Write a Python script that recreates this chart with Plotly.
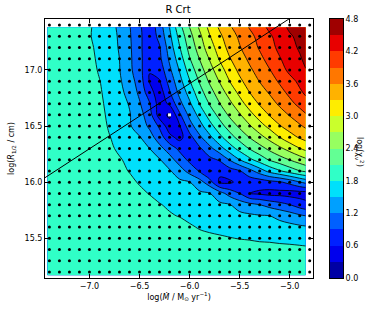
import plotly.graph_objects as go

# ---------------- data ----------------
title_text = "R Crt"

mdot_grid = [-7.42, -7.3, -7.2, -7.1, -7.0, -6.9, -6.8, -6.7, -6.6, -6.5, -6.4, -6.3, -6.2, -6.1,
             -6.0, -5.9, -5.8, -5.7, -5.6, -5.5, -5.4, -5.3, -5.2, -5.1, -5.0, -4.9, -4.84]
rad_grid = [15.17, 15.3, 15.4, 15.5, 15.6, 15.7, 15.8, 15.9, 16.0, 16.1, 16.2, 16.3, 16.4, 16.5,
            16.6, 16.7, 16.8, 16.9, 17.0, 17.1, 17.2, 17.3, 17.38]

# log(chi^2_nu), one row per rad_grid value (bottom -> top), columns follow mdot_grid
chi_r1517 = [1.95]*27
chi_r1530 = [1.95]*27
chi_r1540 = [1.95]*19 + [1.93, 1.90, 1.89, 1.89, 1.88, 1.87, 1.86, 1.85]
chi_r1550 = [1.95]*13 + [1.93, 1.90, 1.87, 1.84, 1.83, 1.81, 1.79, 1.78, 1.76, 1.75, 1.73, 1.72, 1.70, 1.69]
chi_r1560 = [1.95]*13 + [1.88, 1.83, 1.78, 1.76, 1.73, 1.71, 1.68, 1.66, 1.64, 1.63, 1.60, 1.58, 1.55, 1.53]
chi_r1570 = [1.95]*10 + [1.92, 1.88, 1.82, 1.79, 1.74, 1.71, 1.68, 1.64, 1.61, 1.58, 1.55, 1.52, 1.50, 1.43, 1.35, 1.25, 1.20]
chi_r1580 = [1.95]*10 + [1.87, 1.81, 1.77, 1.71, 1.68, 1.63, 1.59, 1.55, 1.51, 1.37, 1.28, 1.20, 1.09, 1.00, 0.90, 0.75, 0.68]
chi_r1590 = [1.95]*9 + [1.85, 1.79, 1.74, 1.70, 1.64, 1.60, 1.55, 1.51, 1.33, 1.08, 0.90, 0.60, 0.55, 0.50, 0.50, 0.47, 0.47, 0.47]
chi_r1600 = [1.95]*8 + [1.85, 1.78, 1.72, 1.67, 1.62, 1.56, 1.51, 1.32, 1.03, 0.55, 0.55, 0.68, 0.72, 0.73, 0.80, 0.86, 0.99, 1.18, 1.28]
chi_r1610 = [1.95]*7 + [1.85, 1.79, 1.73, 1.66, 1.59, 1.53, 1.34, 1.09, 0.87, 0.58, 0.66, 0.77, 0.88, 1.10, 1.35, 1.60, 1.77, 1.94, 2.09, 2.16]
chi_r1620 = [1.95]*7 + [1.82, 1.75, 1.67, 1.59, 1.52, 1.32, 1.06, 0.83, 0.72, 0.82, 0.93, 1.22, 1.50, 1.73, 1.94, 2.13, 2.27, 2.41, 2.55, 2.64]
chi_r1630 = [1.95]*6 + [1.84, 1.76, 1.67, 1.59, 1.50, 1.29, 1.06, 0.83, 0.66, 0.85, 1.11, 1.38, 1.66, 1.90, 2.12, 2.29, 2.47, 2.64, 2.81, 2.99, 3.08]
chi_r1640 = [1.95]*5 + [1.92, 1.81, 1.72, 1.62, 1.52, 1.32, 1.05, 0.69, 0.50, 0.79, 1.14, 1.43, 1.72, 1.98, 2.21, 2.41, 2.60, 2.80, 3.00, 3.19, 3.33, 3.40]
chi_r1650 = [1.95]*5 + [1.90, 1.77, 1.65, 1.53, 1.36, 1.15, 0.85, 0.42, 0.57, 1.07, 1.39, 1.69, 1.98, 2.23, 2.45, 2.67, 2.89, 3.08, 3.28, 3.42, 3.56, 3.65]
chi_r1660 = [1.95]*5 + [1.87, 1.75, 1.64, 1.52, 1.32, 1.03, 0.45, 0.24, 0.84, 1.28, 1.59, 1.92, 2.19, 2.45, 2.67, 2.91, 3.12, 3.32, 3.47, 3.62, 3.78, 3.87]
chi_r1670 = [1.95]*5 + [1.85, 1.73, 1.61, 1.48, 1.23, 0.93, 0.45, 0.65, 1.11, 1.45, 1.81, 2.12, 2.39, 2.63, 2.89, 3.12, 3.33, 3.48, 3.65, 3.82, 3.98, 4.09]
chi_r1680 = [1.95]*5 + [1.83, 1.71, 1.58, 1.40, 1.14, 0.72, 0.43, 0.87, 1.28, 1.61, 1.98, 2.28, 2.55, 2.82, 3.07, 3.30, 3.47, 3.63, 3.80, 3.97, 4.15, 4.25]
chi_r1690 = [1.95]*4 + [1.92, 1.81, 1.67, 1.54, 1.34, 1.07, 0.58, 0.58, 1.01, 1.40, 1.78, 2.13, 2.44, 2.72, 3.00, 3.24, 3.43, 3.61, 3.77, 3.94, 4.09, 4.27, 4.37]
chi_r1700 = [1.95]*4 + [1.90, 1.77, 1.64, 1.51, 1.27, 1.01, 0.61, 0.72, 1.14, 1.52, 1.93, 2.27, 2.58, 2.87, 3.14, 3.37, 3.55, 3.72, 3.89, 4.06, 4.28, 4.40, 4.49]
chi_r1710 = [1.95]*4 + [1.87, 1.75, 1.625, 1.50, 1.26, 1.00, 0.64, 0.83, 1.25, 1.65, 2.08, 2.41, 2.72, 3.03, 3.28, 3.47, 3.66, 3.83, 4.00, 4.18, 4.33, 4.47, 4.56]
chi_r1720 = [1.95]*4 + [1.85, 1.73, 1.61, 1.48, 1.25, 0.98, 0.66, 0.87, 1.34, 1.78, 2.20, 2.54, 2.86, 3.14, 3.39, 3.58, 3.76, 3.93, 4.10, 4.27, 4.42, 4.53, 4.62]
chi_r1730 = [1.95]*4 + [1.82, 1.71, 1.60, 1.47, 1.235, 0.97, 0.69, 0.99, 1.43, 1.89, 2.30, 2.63, 2.98, 3.24, 3.46, 3.65, 3.82, 3.99, 4.16, 4.31, 4.47, 4.56, 4.66]
chi_r1738 = [1.95]*4 + [1.83, 1.70, 1.59, 1.45, 1.22, 0.95, 0.70, 1.05, 1.50, 2.00, 2.40, 2.74, 3.08, 3.34, 3.56, 3.74, 3.92, 4.09, 4.26, 4.41, 4.54, 4.64, 4.72]

chi_rows = [chi_r1517, chi_r1530, chi_r1540, chi_r1550, chi_r1560, chi_r1570, chi_r1580, chi_r1590,
            chi_r1600, chi_r1610, chi_r1620, chi_r1630, chi_r1640, chi_r1650, chi_r1660, chi_r1670,
            chi_r1680, chi_r1690, chi_r1700, chi_r1710, chi_r1720, chi_r1730, chi_r1738]

level_start, level_end, level_step = 0.0, 4.8, 0.3
cbar_ticks = [0.0, 0.6, 1.2, 1.8, 2.4, 3.0, 3.6, 4.2, 4.8]
cbar_labels = ["0.0", "0.6", "1.2", "1.8", "2.4", "3.0", "3.6", "4.2", "4.8"]
x_ticks = [-7.0, -6.5, -6.0, -5.5, -5.0]
x_labels = ["\u22127.0", "\u22126.5", "\u22126.0", "\u22125.5", "\u22125.0"]
y_ticks = [15.5, 16.0, 16.5, 17.0]
y_labels = ["15.5", "16.0", "16.5", "17.0"]

# sampled model positions (black dots)
dot_x = [-7.4, -7.3, -7.2, -7.1, -7.0, -6.9, -6.8, -6.7, -6.6, -6.5, -6.4, -6.3, -6.2, -6.1,
         -6.0, -5.9, -5.8, -5.7, -5.6, -5.5, -5.4, -5.3, -5.2, -5.1, -5.0, -4.9, -4.8]
dot_y = [15.2, 15.3, 15.4, 15.5, 15.6, 15.7, 15.8, 15.9, 16.0, 16.1, 16.2, 16.3, 16.4, 16.5,
         16.6, 16.7, 16.8, 16.9, 17.0, 17.1, 17.2, 17.3, 17.4]
best_x = [-6.2]
best_y = [16.6]

# straight reference line
line_x = [-7.5, -4.9]
line_y = [16.0075, 17.517]

x_range = [-7.444, -4.767]
y_range = [15.146, 17.4545]

# ---------------- styling helpers ----------------
JET = {
    "r": [(0.0, 0.0), (0.35, 0.0), (0.66, 1.0), (0.89, 1.0), (1.0, 0.5)],
    "g": [(0.0, 0.0), (0.125, 0.0), (0.375, 1.0), (0.64, 1.0), (0.91, 0.0), (1.0, 0.0)],
    "b": [(0.0, 0.5), (0.11, 1.0), (0.34, 1.0), (0.65, 0.0), (1.0, 0.0)],
}


def _seg(pts, t):
    for (x0, y0), (x1, y1) in zip(pts[:-1], pts[1:]):
        if x0 <= t <= x1:
            return y0 + (y1 - y0) * (t - x0) / (x1 - x0) if x1 > x0 else y1
    return pts[-1][1]


def jet(t):
    idx = min(int(t * 256), 255)
    tt = idx / 255.0
    r, g, b = (_seg(JET[c], tt) for c in "rgb")
    return "rgb(%d,%d,%d)" % (round(r * 255), round(g * 255), round(b * 255))


nb = int(round((level_end - level_start) / level_step))
band_cols = [jet((k + 0.5) / nb) for k in range(nb)]

# colour map used by the filled contours (fill of band k is looked up at level_k + step/2)
cscale = [[0.0, band_cols[0]]]
for k in range(nb):
    cscale.append([(k + 1) / (nb + 1), band_cols[k]])
cscale.append([1.0, band_cols[-1]])

# stepwise map for the colour-bar strip
step_scale = []
for k in range(nb):
    step_scale.append([k / nb, band_cols[k]])
    step_scale.append([(k + 1) / nb, band_cols[k]])
band_centres = [level_start + level_step * (k + 0.5) for k in range(nb)]

FONT = "DejaVu Sans"

# pixel layout helpers
W, H = 382, 313
ML, MR, MT, MB = 45, 20, 19, 35
PW = W - ML - MR
AX_RIGHT = 313
CB_LEFT, CB_RIGHT = 330, 343

fig = go.Figure()

fig.add_trace(go.Contour(
    x=mdot_grid, y=rad_grid, z=chi_rows,
    contours=dict(start=level_start, end=level_end, size=level_step,
                  coloring="fill", showlines=False),
    colorscale=cscale,
    line=dict(width=0, smoothing=1.0),
    hoverinfo="skip", showscale=False,
))

fig.add_trace(go.Contour(
    x=mdot_grid, y=rad_grid, z=chi_rows,
    contours=dict(start=level_start, end=level_end, size=level_step, coloring="none"),
    line=dict(color="black", width=0.8, smoothing=1.0),
    showscale=False, hoverinfo="skip",
))

gx, gy = [], []
for yy in dot_y:
    for xx in dot_x:
        gx.append(xx)
        gy.append(yy)
fig.add_trace(go.Scatter(x=gx, y=gy, mode="markers",
                         marker=dict(size=3, color="black"),
                         cliponaxis=False, hoverinfo="skip", showlegend=False))

fig.add_trace(go.Scatter(x=line_x, y=line_y, mode="lines",
                         line=dict(color="black", width=1),
                         hoverinfo="skip", showlegend=False))

fig.add_trace(go.Scatter(x=best_x, y=best_y, mode="markers",
                         marker=dict(size=3, color="white", symbol="square"),
                         hoverinfo="skip", showlegend=False))

# colour bar drawn as a one-column heatmap on its own axes
fig.add_trace(go.Heatmap(
    x=[0], y=band_centres, z=[[k] for k in range(nb)],
    zmin=-0.5, zmax=nb - 0.5, colorscale=step_scale, showscale=False,
    xaxis="x2", yaxis="y2", hoverinfo="skip",
))

axis_common = dict(
    showgrid=False, zeroline=False, showline=True, linecolor="black", linewidth=1,
    mirror="ticks", ticks="inside", ticklen=4, tickcolor="black", tickwidth=1,
    tickfont=dict(family=FONT, size=8, color="black"),
)

fig.update_layout(
    xaxis=dict(domain=[0, (AX_RIGHT - ML) / PW], range=x_range,
               tickvals=x_ticks, ticktext=x_labels,
               title=dict(text="log(<i>\u1E40</i> / M<sub>\u2299</sub> yr<sup>\u22121</sup>)",
                          font=dict(family=FONT, size=8, color="black"), standoff=4),
               **axis_common),
    yaxis=dict(domain=[0, 1], range=y_range, tickvals=y_ticks, ticktext=y_labels,
               title=dict(text="log(<i>R</i><sub>1/2</sub> / cm)",
                          font=dict(family=FONT, size=8, color="black"), standoff=8),
               **axis_common),
    xaxis2=dict(domain=[(CB_LEFT - ML) / PW, (CB_RIGHT - ML) / PW], anchor="y2",
                range=[-0.5, 0.5], showticklabels=False, ticks="", showgrid=False,
                zeroline=False, showline=True, mirror=True, linecolor="black",
                linewidth=1, fixedrange=True),
    yaxis2=dict(domain=[0, 1], anchor="x2", side="right", range=[level_start, level_end],
                tickvals=cbar_ticks, ticktext=cbar_labels, ticks="", showgrid=False,
                zeroline=False, showline=True, mirror=True, linecolor="black",
                linewidth=1, fixedrange=True,
                tickfont=dict(family=FONT, size=8, color="black")),
    width=W, height=H,
    margin=dict(l=ML, r=MR, t=MT, b=MB),
    paper_bgcolor="white", plot_bgcolor="white",
    font=dict(family=FONT, size=8, color="black"),
    showlegend=False,
    title=dict(text=title_text, x=178 / W, xanchor="center",
               y=1 - 9 / H, yanchor="middle", yref="container",
               font=dict(family=FONT, size=10, color="black")),
    annotations=[dict(
        text="log(\u03c7<sub>\u03bd</sub><sup>2</sup>)", textangle=90,
        x=(360 - ML) / PW, y=(278 - 152) / 259, xref="paper", yref="paper",
        xanchor="center", yanchor="middle", showarrow=False,
        font=dict(family=FONT, size=8, color="black"))],
)

fig.write_html("out.html", config={"displayModeBar": False},
               post_script="document.body.style.margin='0px';document.body.style.padding='0px';")
